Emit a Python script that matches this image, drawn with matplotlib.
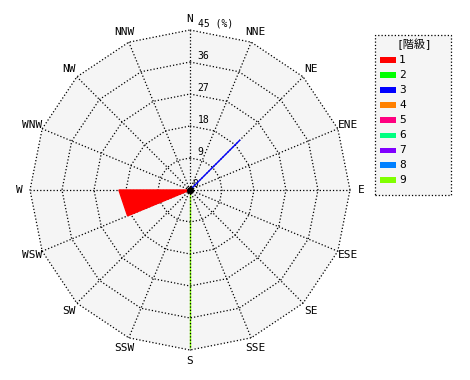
import numpy as np
import matplotlib
matplotlib.use('Agg')
from matplotlib import pyplot as plt
from matplotlib.patches import Rectangle, Polygon

directions = ['N', 'NNE', 'NE', 'ENE', 'E', 'ESE', 'SE', 'SSE',
              'S', 'SSW', 'SW', 'WSW', 'W', 'WNW', 'NW', 'NNW']
ring_values = [9, 18, 27, 36, 45]
classes = ['1', '2', '3', '4', '5', '6', '7', '8', '9']
class_colors = ['#ff0000', '#00ff00', '#0000ff', '#ff8000', '#ff0080',
                '#00ff80', '#8000ff', '#0080ff', '#80ff00']

# frequency (%) per direction for each class
freq_class1 = [0, 0, 0, 0, 0, 0, 0, 0, 0, 0, 0, 19, 20, 0, 0, 0]
freq_class3 = [0, 0, 20, 0, 0, 0, 0, 0, 0, 0, 0, 0, 0, 0, 0, 0]
freq_class9 = [0, 0, 0, 0, 0, 0, 0, 0, 44.5, 0, 0, 0, 0, 0, 0, 0]
series = {'1': freq_class1, '3': freq_class3, '9': freq_class9}

rmax = 45
W, H = 470, 380
px_per_unit = 160 / rmax
cx, cy = 190, 190

fig = plt.figure(figsize=(W / 100, H / 100), dpi=100)
ax = fig.add_axes([0, 0, 1, 1])
ax.set_xlim(-cx / px_per_unit, (W - cx) / px_per_unit)
ax.set_ylim(-(H - cy) / px_per_unit, cy / px_per_unit)
ax.axis('off')

ang = np.deg2rad(np.arange(16) * 22.5)


def xy(r):
    r = np.asarray(r, dtype=float)
    return r * np.sin(ang), r * np.cos(ang)


mono = ['DejaVu Sans Mono', 'Noto Sans CJK JP']

# background polygon
ox, oy = xy(np.full(16, rmax))
ax.add_patch(Polygon(np.c_[ox, oy], closed=True, facecolor='#f5f5f5',
                     edgecolor='none', zorder=0))

# class polygons
for name, vals in series.items():
    color = class_colors[classes.index(name)]
    px, py = xy(vals)
    z = 1 if name == '9' else 3
    ax.fill(px, py, facecolor=color, edgecolor=color, lw=1.0, zorder=z)

# grid rings and spokes
for rv in ring_values:
    gx, gy = xy(np.full(16, rv))
    ax.plot(np.r_[gx, gx[0]], np.r_[gy, gy[0]], color='black', ls=':', lw=0.9, zorder=2)
for i in range(16):
    ax.plot([0, ox[i]], [0, oy[i]], color='black', ls=':', lw=0.9, zorder=2)

ax.plot(0, 0, 'o', color='black', ms=4, zorder=4)

# radial labels
ax.text(2.0 / px_per_unit * 1, 0.3, '0', fontsize=7, family=mono, ha='left', va='bottom', zorder=2)
for rv in ring_values:
    lab = '%d' % rv if rv < rmax else '%d (%%)' % rv
    ax.text(2.5 / px_per_unit * 3, rv + 0.3, lab, fontsize=7, family=mono,
            ha='left', va='bottom')

# direction labels
lx, ly = xy(np.full(16, rmax + 3.1))
for i, d in enumerate(directions):
    ax.text(lx[i], ly[i], d, fontsize=8, family=mono, ha='center', va='center')

# legend box
def fx(p):
    return p / W


def fy(p):
    return 1 - p / H


fig.patches.append(Rectangle((fx(375), fy(195)), fx(451) - fx(375), fy(35) - fy(195),
                             transform=fig.transFigure, facecolor='#f5f5f5',
                             edgecolor='black', ls=':', lw=0.9))
fig.text(fx(414), fy(44), '[階級]', fontsize=8, family=mono, ha='center', va='center')
for i, (c, col) in enumerate(zip(classes, class_colors)):
    yy = 60 + 15 * i
    fig.patches.append(Rectangle((fx(380), fy(yy + 2.5)), fx(396) - fx(380), 5 / H,
                                 transform=fig.transFigure, facecolor=col, edgecolor='none'))
    fig.text(fx(399), fy(yy), c, fontsize=8, family=mono, ha='left', va='center')

fig.savefig('out.png', dpi=100)
